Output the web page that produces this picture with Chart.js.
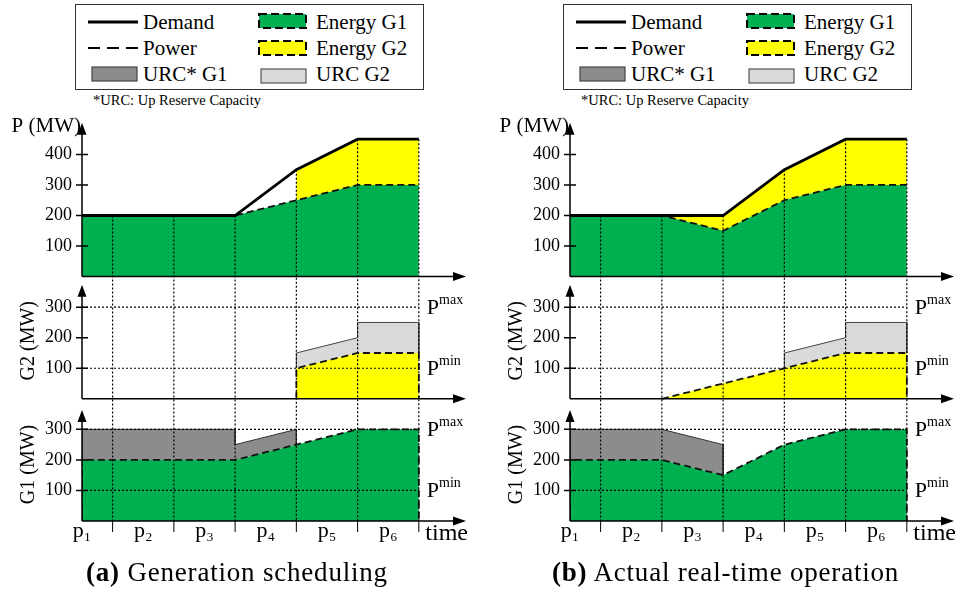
<!DOCTYPE html>
<html>
<head>
<meta charset="utf-8">
<script src="https://cdn.jsdelivr.net/npm/chart.js@4.4.0/dist/chart.umd.min.js"></script>
<style>
  html, body { margin: 0; padding: 0; background: #fff; overflow: hidden; }
  body { width: 965px; height: 594px; position: relative; font-family: "Liberation Serif", serif; color: #000; }
  canvas { position: absolute; top: 100px; }
  .legend { position: absolute; top: 4px; width: 347px; height: 84px; border: 1px solid #333; background: #fff; }
  .legend svg { position: absolute; }
  .legend .lbl { position: absolute; font-size: 21px; line-height: 26px; white-space: nowrap; }
  .note { position: absolute; top: 92px; font-size: 14.5px; line-height: 16px; white-space: nowrap; }
  .caption { position: absolute; top: 557px; font-size: 27px; line-height: 30px; letter-spacing: 0.8px; white-space: nowrap; }
</style>
</head>
<body>
<div id="legA" class="legend" style="left:75px"></div>
<div class="note" style="left:93px">*URC: Up Reserve Capacity</div>
<div id="legB" class="legend" style="left:563px"></div>
<div class="note" style="left:581px">*URC: Up Reserve Capacity</div>
<canvas id="chartA" width="477" height="462" style="left:0px"></canvas>
<canvas id="chartB" width="477" height="462" style="left:488px"></canvas>
<div class="caption" style="left:86px"><b>(a)</b> Generation scheduling</div>
<div class="caption" style="left:552px"><b>(b)</b> Actual real-time operation</div>
<script>
// period boundaries (time axis), values are given at these points
const bounds = [0, 0.5, 1.5, 2.5, 3.5, 4.5, 5.5];
const periodCenters = [0, 1, 2, 3, 4, 5];
const periodLabels = ['p\u2081', 'p\u2082', 'p\u2083', 'p\u2084', 'p\u2085', 'p\u2086'];
const pTicks = [100, 200, 300, 400];
const gTicks = [100, 200, 300];
const limits = [100, 300]; // Pmin, Pmax of both units

// (a) generation scheduling
const demandA = [200, 200, 200, 200, 350, 450, 450];
const g1A = [200, 200, 200, 200, 250, 300, 300];
const g2A = [null, null, null, null, 100, 150, 150];
const urcG1A = [100, 100, 100, 50, 0, 0];   // per period p1..p6
const urcG2A = [0, 0, 0, 0, 50, 100];

// (b) actual real-time operation
const demandB = [200, 200, 200, 200, 350, 450, 450];
const g1B = [200, 200, 200, 150, 250, 300, 300];
const g2B = [null, null, 0, 50, 100, 150, 150];
const urcG1B = [100, 100, 100, 0, 0, 0];
const urcG2B = [0, 0, 0, 0, 50, 100];

const GREEN = '#00b050', YELLOW = '#ffff00', DARKGRAY = '#8c8c8c', LIGHTGRAY = '#d9d9d9';
const FONT = '"Liberation Serif", "Times New Roman", serif';

function pts(vals) {
    return bounds.map((t, i) => ({ x: t, y: vals[i] })).filter(p => p.y !== null);
}
// energy area, closed down to the axis at both ends
function outline(vals) {
    const p = pts(vals);
    return [{ x: p[0].x, y: 0 }, ...p, { x: p[p.length - 1].x, y: 0 }];
}
// band between two series (upper forward, lower back)
function band(lower, upper) {
    const up = [], low = [];
    bounds.forEach((t, i) => {
        if (upper[i] === null || lower[i] === null) return;
        up.push({ x: t, y: upper[i] });
        low.unshift({ x: t, y: lower[i] });
    });
    return up.concat(low);
}
function stackTop(a, b) {
    return a.map((v, i) => b[i] === null ? null : v + b[i]);
}
// reserve polygon on top of an energy curve; "edge" is the part that gets a border
function reserve(energy, urc) {
    const idx = urc.map((r, i) => r > 0 ? i : -1).filter(i => i >= 0);
    const first = idx[0], last = idx[idx.length - 1];
    const up = [{ x: bounds[first], y: energy[first] }];
    idx.forEach(i => {
        const a = { x: bounds[i], y: energy[i] + urc[i] };
        const b = { x: bounds[i + 1], y: energy[i + 1] + urc[i] };
        const prev = up[up.length - 1];
        if (prev.x !== a.x || prev.y !== a.y) up.push(a);
        up.push(b);
    });
    up.push({ x: bounds[last + 1], y: energy[last + 1] });
    const back = [];
    for (let i = last; i >= first; i--) back.push({ x: bounds[i], y: energy[i] });
    return { shape: up.concat(back), edge: up };
}

function yScale(min, max, ticks, weight) {
    return {
        type: 'linear', position: 'left', stack: 'units', stackWeight: max - min, weight,
        min, max,
        grid: { display: false, drawTicks: false },
        border: { display: false },
        afterBuildTicks: sc => { sc.ticks = ticks.map(v => ({ value: v })); },
        afterFit: sc => { sc.width = 60; },
        ticks: { padding: 10, color: '#000', font: { family: FONT, size: 18 } }
    };
}

function arrowUp(ctx, x, y) {
    ctx.beginPath(); ctx.moveTo(x, y); ctx.lineTo(x - 4.5, y + 12); ctx.lineTo(x + 4.5, y + 12); ctx.closePath(); ctx.fill();
}
function arrowRight(ctx, x, y) {
    ctx.beginPath(); ctx.moveTo(x, y); ctx.lineTo(x - 13, y - 4.5); ctx.lineTo(x - 13, y + 4.5); ctx.closePath(); ctx.fill();
}
function limitLabel(ctx, x, y, sup) {
    ctx.font = '22px ' + FONT;
    ctx.textAlign = 'left';
    ctx.fillText('P', x, y + 7);
    const w = ctx.measureText('P').width;
    ctx.font = '14px ' + FONT;
    ctx.fillText(sup, x + w, y - 3);
}

function sketch(s) {
    return {
        id: 'sketch',
        afterDatasetsDraw(chart) {
            const { ctx, chartArea, scales } = chart;
            const x = scales.x, yP = scales.yP, y2 = scales.yG2, y1 = scales.yG1;
            const X = v => x.getPixelForValue(v);
            const x0 = X(0), xEnd = X(bounds[bounds.length - 1]);
            const base = y1.getPixelForValue(0);
            ctx.save();
            ctx.strokeStyle = '#000';
            ctx.fillStyle = '#000';

            // dotted period boundaries and unit limits
            ctx.lineWidth = 1.2;
            ctx.setLineDash([2, 2]);
            ctx.beginPath();
            bounds.forEach((t, i) => {
                if (i === 0) return;
                ctx.moveTo(X(t), yP.getPixelForValue(s.demand[i]));
                ctx.lineTo(X(t), base);
            });
            [y2, y1].forEach(sc => limits.forEach(v => {
                ctx.moveTo(x0, sc.getPixelForValue(v));
                ctx.lineTo(xEnd, sc.getPixelForValue(v));
            }));
            ctx.stroke();
            ctx.setLineDash([]);

            // axes with arrows and crossing tick marks
            ctx.lineWidth = 1.5;
            [yP, y2, y1].forEach(sc => {
                const y0 = sc.getPixelForValue(0);
                ctx.beginPath();
                ctx.moveTo(x0, y0); ctx.lineTo(x0, sc.top + 12);
                ctx.moveTo(x0, y0); ctx.lineTo(chartArea.right - 12, y0);
                sc.ticks.forEach(t => {
                    const ty = sc.getPixelForValue(t.value);
                    ctx.moveTo(x0 - 6, ty); ctx.lineTo(x0 + 6, ty);
                });
                ctx.stroke();
                arrowUp(ctx, x0, sc.top + 2);
                arrowRight(ctx, chartArea.right, y0);
            });

            // period separators under the time axis
            ctx.lineWidth = 1;
            ctx.beginPath();
            bounds.forEach((t, i) => {
                if (i === 0) return;
                ctx.moveTo(X(t), base); ctx.lineTo(X(t), base + 11);
            });
            ctx.stroke();

            // texts
            ctx.textBaseline = 'alphabetic';
            ctx.font = '21px ' + FONT;
            ctx.textAlign = 'right';
            ctx.fillText('P (MW)', x0 - 1, yP.top + 11);
            ctx.font = '24px ' + FONT;
            ctx.fillText('time', chartArea.right + 2, base + 19);
            [[y2, 'G2 (MW)'], [y1, 'G1 (MW)']].forEach(([sc, txt]) => {
                ctx.save();
                ctx.translate(x0 - 53, (sc.getPixelForValue(0) + sc.top) / 2);
                ctx.rotate(-Math.PI / 2);
                ctx.textAlign = 'center';
                ctx.textBaseline = 'middle';
                ctx.font = '20px ' + FONT;
                ctx.fillText(txt, 0, 0);
                ctx.restore();
            });
            [y2, y1].forEach(sc => {
                limitLabel(ctx, xEnd + 8, sc.getPixelForValue(limits[1]), 'max');
                limitLabel(ctx, xEnd + 8, sc.getPixelForValue(limits[0]), 'min');
            });
            ctx.restore();
        }
    };
}

function makePanel(id, s) {
    const r1 = reserve(s.g1, s.urcG1);
    const r2 = reserve(s.g2, s.urcG2);
    const dash = [7, 4];
    const common = { pointRadius: 0, tension: 0 };
    new Chart(document.getElementById(id), {
        type: 'line',
        data: {
            datasets: [
                { ...common, label: 'Demand', yAxisID: 'yP', data: pts(s.demand), borderColor: '#000', borderWidth: 2.8, fill: false },
                { ...common, label: 'Power G1', yAxisID: 'yP', data: pts(s.g1), borderColor: '#111', borderWidth: 1.8, borderDash: dash, backgroundColor: GREEN, fill: 'origin' },
                { ...common, label: 'Energy G2', yAxisID: 'yP', data: band(s.g1, stackTop(s.g1, s.g2)), borderWidth: 0, backgroundColor: YELLOW, fill: 'shape' },
                { ...common, label: 'Energy G2', yAxisID: 'yG2', data: outline(s.g2), borderColor: '#111', borderWidth: 1.8, borderDash: dash, backgroundColor: YELLOW, fill: 'origin' },
                { ...common, label: 'URC G2 edge', yAxisID: 'yG2', data: r2.edge, borderColor: '#444', borderWidth: 1, fill: false },
                { ...common, label: 'URC G2', yAxisID: 'yG2', data: r2.shape, borderWidth: 0, backgroundColor: LIGHTGRAY, fill: 'shape' },
                { ...common, label: 'Energy G1', yAxisID: 'yG1', data: outline(s.g1), borderColor: '#111', borderWidth: 1.8, borderDash: dash, backgroundColor: GREEN, fill: 'origin' },
                { ...common, label: 'URC G1 edge', yAxisID: 'yG1', data: r1.edge, borderColor: '#333', borderWidth: 1, fill: false },
                { ...common, label: 'URC G1', yAxisID: 'yG1', data: r1.shape, borderWidth: 0, backgroundColor: DARKGRAY, fill: 'shape' }
            ]
        },
        options: {
            responsive: false,
            animation: false,
            events: [],
            layout: { padding: { top: 19, bottom: 11, left: 22, right: 11 } },
            plugins: { legend: { display: false }, tooltip: { enabled: false } },
            scales: {
                x: {
                    type: 'linear', min: 0, max: 6.27,
                    grid: { display: false, drawTicks: false },
                    border: { display: false },
                    afterBuildTicks: sc => { sc.ticks = periodCenters.map(v => ({ value: v })); },
                    afterFit: sc => { sc.height = 30; },
                    ticks: { autoSkip: false, maxRotation: 0, padding: -3, color: '#000',
                             font: { family: FONT, size: 22 }, callback: (v, i) => periodLabels[i] }
                },
                yP: yScale(-20, 510, pTicks, 3),
                yG2: yScale(-30, 380, gTicks, 2),
                yG1: yScale(0, 370, gTicks, 1)
            }
        },
        plugins: [sketch(s)]
    });
}

function legend(id) {
    const box = (l, t, w, h, fill, dashed, stroke) =>
        `<svg style="left:${l}px;top:${t}px" width="${w}" height="${h}"><rect x="1" y="1" width="${w - 2}" height="${h - 2}" fill="${fill}" stroke="${stroke}" stroke-width="${dashed ? 2 : 1.2}" ${dashed ? 'stroke-dasharray="8 4"' : ''}/></svg>`;
    const line = (t, dash, sw) =>
        `<svg style="left:12px;top:${t - 3}px" width="50" height="6"><line x1="0" y1="3" x2="50" y2="3" stroke="#000" stroke-width="${sw}" ${dash ? 'stroke-dasharray="12 7"' : ''}/></svg>`;
    const lbl = (l, t, txt) => `<div class="lbl" style="left:${l}px;top:${t}px">${txt}</div>`;
    document.getElementById(id).innerHTML =
        line(17, false, 2.8) + lbl(67, 4, 'Demand') +
        line(43, true, 1.8) + lbl(67, 30, 'Power') +
        box(15, 61, 47, 16, DARKGRAY, false, '#444') + lbl(67, 56, 'URC* G1') +
        box(182, 8, 49, 16, GREEN, true, '#000') + lbl(240, 4, 'Energy G1') +
        box(182, 35, 49, 16, YELLOW, true, '#000') + lbl(240, 30, 'Energy G2') +
        box(184, 63, 47, 16, LIGHTGRAY, false, '#555') + lbl(240, 56, 'URC G2');
}

legend('legA');
legend('legB');
makePanel('chartA', { demand: demandA, g1: g1A, g2: g2A, urcG1: urcG1A, urcG2: urcG2A });
makePanel('chartB', { demand: demandB, g1: g1B, g2: g2B, urcG1: urcG1B, urcG2: urcG2B });
</script>
</body>
</html>
